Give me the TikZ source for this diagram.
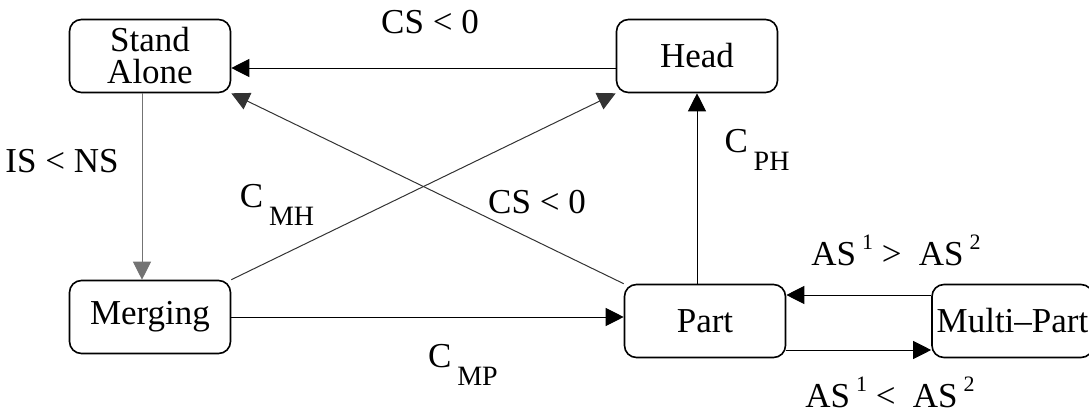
\documentclass[tikz,border=0pt]{standalone}
\usepackage{fontspec}
\setmainfont{Liberation Serif}
\usetikzlibrary{arrows.meta}

\newcommand\lowsub[1]{\,\raisebox{-9pt}{\fontsize{14}{14}\selectfont #1}}
\newcommand\upidx[1]{\,\raisebox{8pt}{\fontsize{11}{11}\selectfont #1}}

\begin{document}
\begin{tikzpicture}[x=0.5pt,y=-0.5pt,
    state/.style={draw,thick,rounded corners=6pt,minimum width=80.5pt,minimum height=36.5pt,
                  align=center,font=\fontsize{17.5}{16}\selectfont},
    trans/.style={-{Triangle[length=9pt,width=9pt]},line width=0.5pt},
    lbl/.style={font=\fontsize{17.5}{20}\selectfont}]
    \useasboundingbox (0,0) rectangle (1089,412);

    % states
    \node[state] (stand) at (150,56) {Stand\\Alone};
    \node[state] (head) at (697,56) {Head};
    \node[state] (merge) at (150,317) {Merging};
    \node[state] (part) at (705,321) {Part};
    \node[state,inner xsep=1pt] (multi) at (1012.5,321) {Multi--Part};

    % transitions
    \draw[trans] ([yshift=-6pt]head.west) -- ([yshift=-6pt]stand.east);
    \draw[trans,black!55] ([xshift=-4pt]stand.south) -- ([xshift=-4pt]merge.north);
    \draw[trans,black!80] (merge.north east) -- (head.south west);
    \draw[trans,black!80] (part.north west) -- (stand.south east);
    \draw[trans] (part.north -| head.south) -- (head.south);
    \draw[trans] (merge.east) -- (merge.east -| part.west);
    \draw[trans] ([yshift=13pt]multi.west) -- ([yshift=13pt]part.east);
    \draw[trans] ([yshift=-14.5pt]part.east) -- ([yshift=-14.5pt]multi.west);

    % labels
    \node[lbl] (cstop) at (430,22) {CS < 0};
    \node[lbl] (isns) at (62,161) {IS < NS};
    \node[lbl] (cmh) at (277,205) {C\lowsub{MH}};
    \node[lbl] (csmid) at (537,202) {CS < 0};
    \node[lbl] (cph) at (757,150) {C\lowsub{PH}};
    \node[lbl] (cmp) at (463,365) {C\lowsub{MP}};
    \node[lbl] (asgt) at (896,250) {AS\upidx{1} >\ \ AS\upidx{2}};
    \node[lbl] (aslt) at (890,392) {AS\upidx{1} <\ \ AS\upidx{2}};
\end{tikzpicture}
\end{document}
